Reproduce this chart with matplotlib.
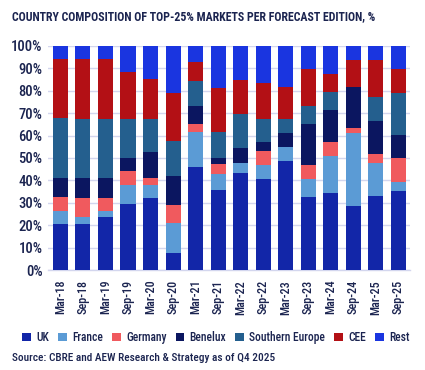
import numpy as np
import matplotlib
matplotlib.use("Agg")
import matplotlib.pyplot as plt
from matplotlib.patches import Patch

plt.rcParams['font.family'] = ['Roboto Condensed', 'DejaVu Sans']

editions = ["Mar-18", "Sep-18", "Mar-19", "Sep-19", "Mar-20", "Sep-20", "Mar-21", "Sep-21",
            "Mar-22", "Sep-22", "Mar-23", "Sep-23", "Mar-24", "Sep-24", "Mar-25", "Sep-25"]

uk = [20.6, 20.6, 23.5, 29.5, 32.1, 7.6, 46.0, 35.7, 43.3, 40.6, 48.7, 32.6, 34.4, 28.6, 33.0, 35.3]
france = [5.9, 2.9, 2.9, 8.4, 5.8, 13.4, 15.6, 7.2, 4.5, 6.3, 6.2, 8.0, 16.3, 32.6, 14.8, 4.0]
germany = [5.9, 8.8, 5.9, 6.3, 3.2, 8.0, 3.6, 4.4, 0.0, 6.2, 0.0, 6.3, 6.4, 2.2, 4.0, 10.7]
benelux = [8.8, 8.8, 8.8, 5.8, 11.6, 13.0, 8.0, 2.7, 6.7, 4.0, 6.3, 18.3, 14.3, 18.3, 14.7, 10.3]
south_europe = [26.5, 26.5, 26.5, 17.4, 14.7, 15.6, 11.3, 11.6, 15.1, 10.3, 6.2, 8.0, 8.1, 0.0, 10.7, 18.7]
cee = [26.5, 26.5, 26.5, 20.8, 18.0, 21.6, 8.1, 19.4, 15.2, 16.1, 14.4, 16.7, 8.0, 12.1, 16.6, 10.9]
rest = [5.9, 5.9, 5.9, 11.8, 14.6, 20.8, 7.4, 19.0, 15.2, 16.5, 18.2, 10.1, 12.5, 6.2, 6.2, 10.1]

series = [uk, france, germany, benelux, south_europe, cee, rest]
names = ["UK", "France", "Germany", "Benelux", "Southern Europe", "CEE", "Rest"]
colors = ["#1226A8", "#5B9BD5", "#F05A5E", "#0B1660", "#245F8E", "#B31015", "#1A35E0"]

text_col = "#1B2450"
grid_col = "#D3D6EE"

fig = plt.figure(figsize=(4.25, 3.7), dpi=100)
ax = fig.add_axes([0.113, 0.270, 0.852, 0.606])

x = np.arange(len(editions))
bottom = np.zeros(len(editions))
for vals, col in zip(series, colors):
    vals = np.array(vals)
    ax.bar(x, vals, bottom=bottom, width=0.67, color=col, linewidth=0, zorder=3)
    bottom += vals

ax.set_xlim(-0.55, 15.52)
ax.set_ylim(0, 100)
ax.set_yticks(np.arange(0, 101, 10))
ax.set_yticklabels(["{}%".format(v) for v in range(0, 101, 10)], fontweight="medium")
ax.set_xticks(x)
ax.set_xticklabels(editions, rotation=90, fontweight="medium")
ax.grid(axis="y", color=grid_col, linewidth=1, zorder=0)
ax.set_axisbelow(True)
for s in ["top", "right", "left"]:
    ax.spines[s].set_visible(False)
ax.spines["bottom"].set_color(grid_col)
ax.spines["bottom"].set_linewidth(1)
ax.tick_params(axis="both", length=0, colors=text_col)
ax.tick_params(axis="y", labelsize=10.5, pad=4)
ax.tick_params(axis="x", labelsize=8.7, pad=7)

fig.text(0.028, 0.955, "COUNTRY COMPOSITION OF TOP-25% MARKETS PER FORECAST EDITION, %",
         fontsize=8.6, fontweight="bold", color=text_col, va="center")

handles = [Patch(facecolor=c, edgecolor="none") for c in colors]
leg = fig.legend(handles, names, loc="center", bbox_to_anchor=(0.508, 0.088), ncol=7, frameon=False,
                 fontsize=8.3, handlelength=0.75, handleheight=0.75, handletextpad=0.45,
                 columnspacing=0.8, labelcolor=text_col)
for t in leg.get_texts():
    t.set_fontweight("medium")

fig.text(0.028, 0.032, "Source: CBRE and AEW Research & Strategy as of Q4 2025",
         fontsize=8.1, fontweight="medium", color=text_col, va="center")

fig.savefig("out.png", dpi=100)
